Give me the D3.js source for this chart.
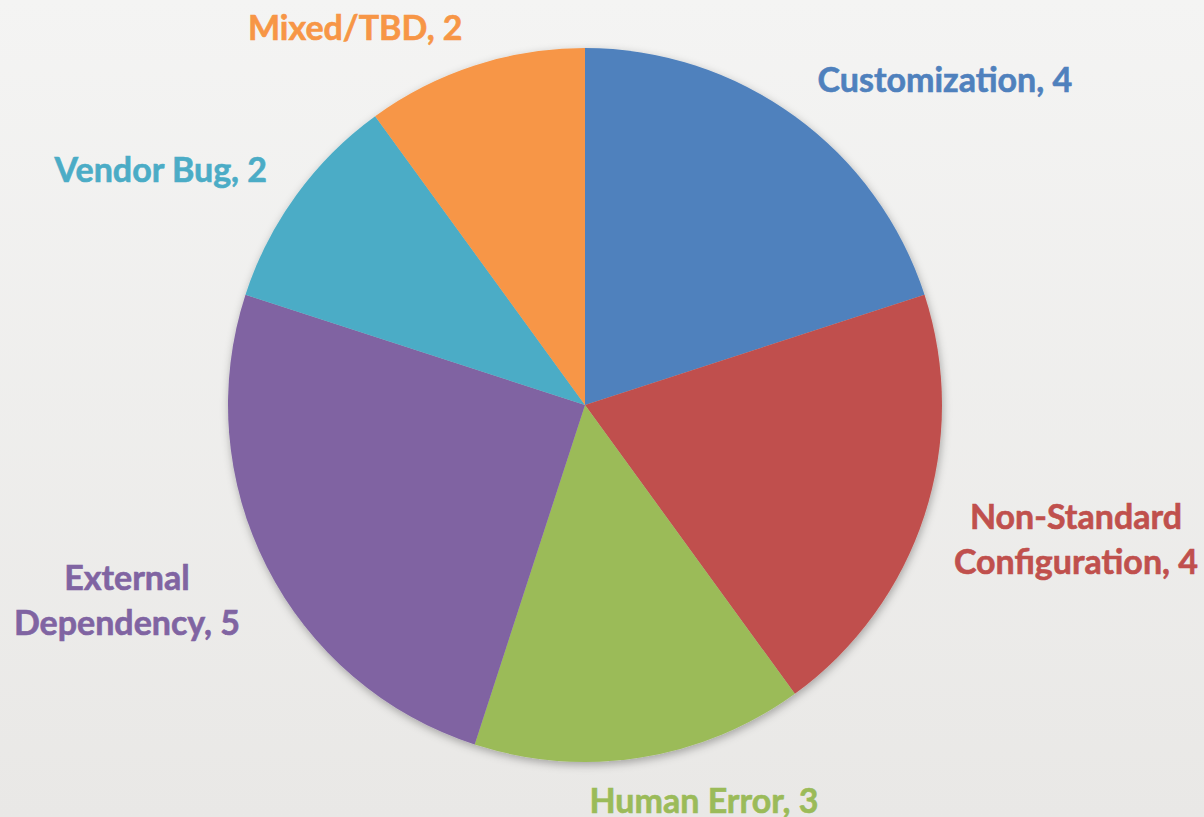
<!DOCTYPE html>
<html>
<head>
<meta charset="utf-8">
<script src="https://cdn.jsdelivr.net/npm/d3@7"></script>
<style>
  html, body { margin: 0; padding: 0; }
  body { width: 1204px; height: 817px; overflow: hidden; }
</style>
</head>
<body>
<div id="chart"></div>
<script>
// data
const categories = ["Customization", "Non-Standard Configuration", "Human Error",
                    "External Dependency", "Vendor Bug", "Mixed/TBD"];
const counts = [4, 4, 3, 5, 2, 2];
const colors = ["#4f81bd", "#c0504d", "#9bbb59", "#8064a2", "#4bacc6", "#f79646"];
// label text split into lines
const labelLines = [["Customization, 4"], ["Non-Standard", "Configuration, 4"], ["Human Error, 3"],
                    ["External", "Dependency, 5"], ["Vendor Bug, 2"], ["Mixed/TBD, 2"]];
// where each label sits: angle (deg, clockwise from top) and distance from centre
const labelAngle = [47.9, 105.3, 163.3, 246.9, 299, 328.6];
const labelDist = [485, 509, 414, 498, 485, 441];

const width = 1204, height = 817;
const cx = 585, cy = 405, radius = 357;

const svg = d3.select("#chart").append("svg")
    .attr("width", width)
    .attr("height", height);

const defs = svg.append("defs");
const grad = defs.append("linearGradient")
    .attr("id", "bg").attr("x1", 0).attr("y1", 0).attr("x2", 0).attr("y2", 1);
grad.append("stop").attr("offset", "0%").attr("stop-color", "#f4f4f3");
grad.append("stop").attr("offset", "100%").attr("stop-color", "#e9e8e6");

const shadow = defs.append("filter").attr("id", "shadow")
    .attr("x", "-10%").attr("y", "-10%").attr("width", "120%").attr("height", "120%");
shadow.append("feDropShadow")
    .attr("dx", 1).attr("dy", 3)
    .attr("stdDeviation", 4)
    .attr("flood-color", "#000").attr("flood-opacity", 0.3);

svg.append("rect").attr("width", width).attr("height", height).attr("fill", "url(#bg)");

const pie = d3.pie().sort(null).value(d => d);
const arcs = pie(counts);
const arc = d3.arc().innerRadius(0).outerRadius(radius);

const g = svg.append("g").attr("transform", `translate(${cx},${cy})`);

g.append("g").attr("filter", "url(#shadow)")
  .selectAll("path")
  .data(arcs)
  .join("path")
    .attr("d", arc)
    .attr("fill", (d, i) => colors[i]);

const lineH = 45;
const labels = g.selectAll("text.lbl")
  .data(arcs)
  .join("text")
    .attr("class", "lbl")
    .attr("text-anchor", "middle")
    .attr("font-family", "Lato, 'Open Sans', sans-serif")
    .attr("font-weight", 700)
    .attr("font-size", 34)
    .attr("fill", (d, i) => colors[i])
    .attr("stroke", (d, i) => colors[i])
    .attr("stroke-width", 0.6)
    .attr("transform", (d, i) => {
        const a = labelAngle[i] * Math.PI / 180;
        return `translate(${labelDist[i] * Math.sin(a)},${-labelDist[i] * Math.cos(a)})`;
    });

labels.each(function(d, i) {
    const lines = labelLines[i];
    const t = d3.select(this);
    lines.forEach((ln, k) => {
        t.append("tspan")
          .attr("x", 0)
          .attr("y", (k - (lines.length - 1) / 2) * lineH)
          .attr("dy", "0.35em")
          .text(ln);
    });
});
</script>
</body>
</html>
